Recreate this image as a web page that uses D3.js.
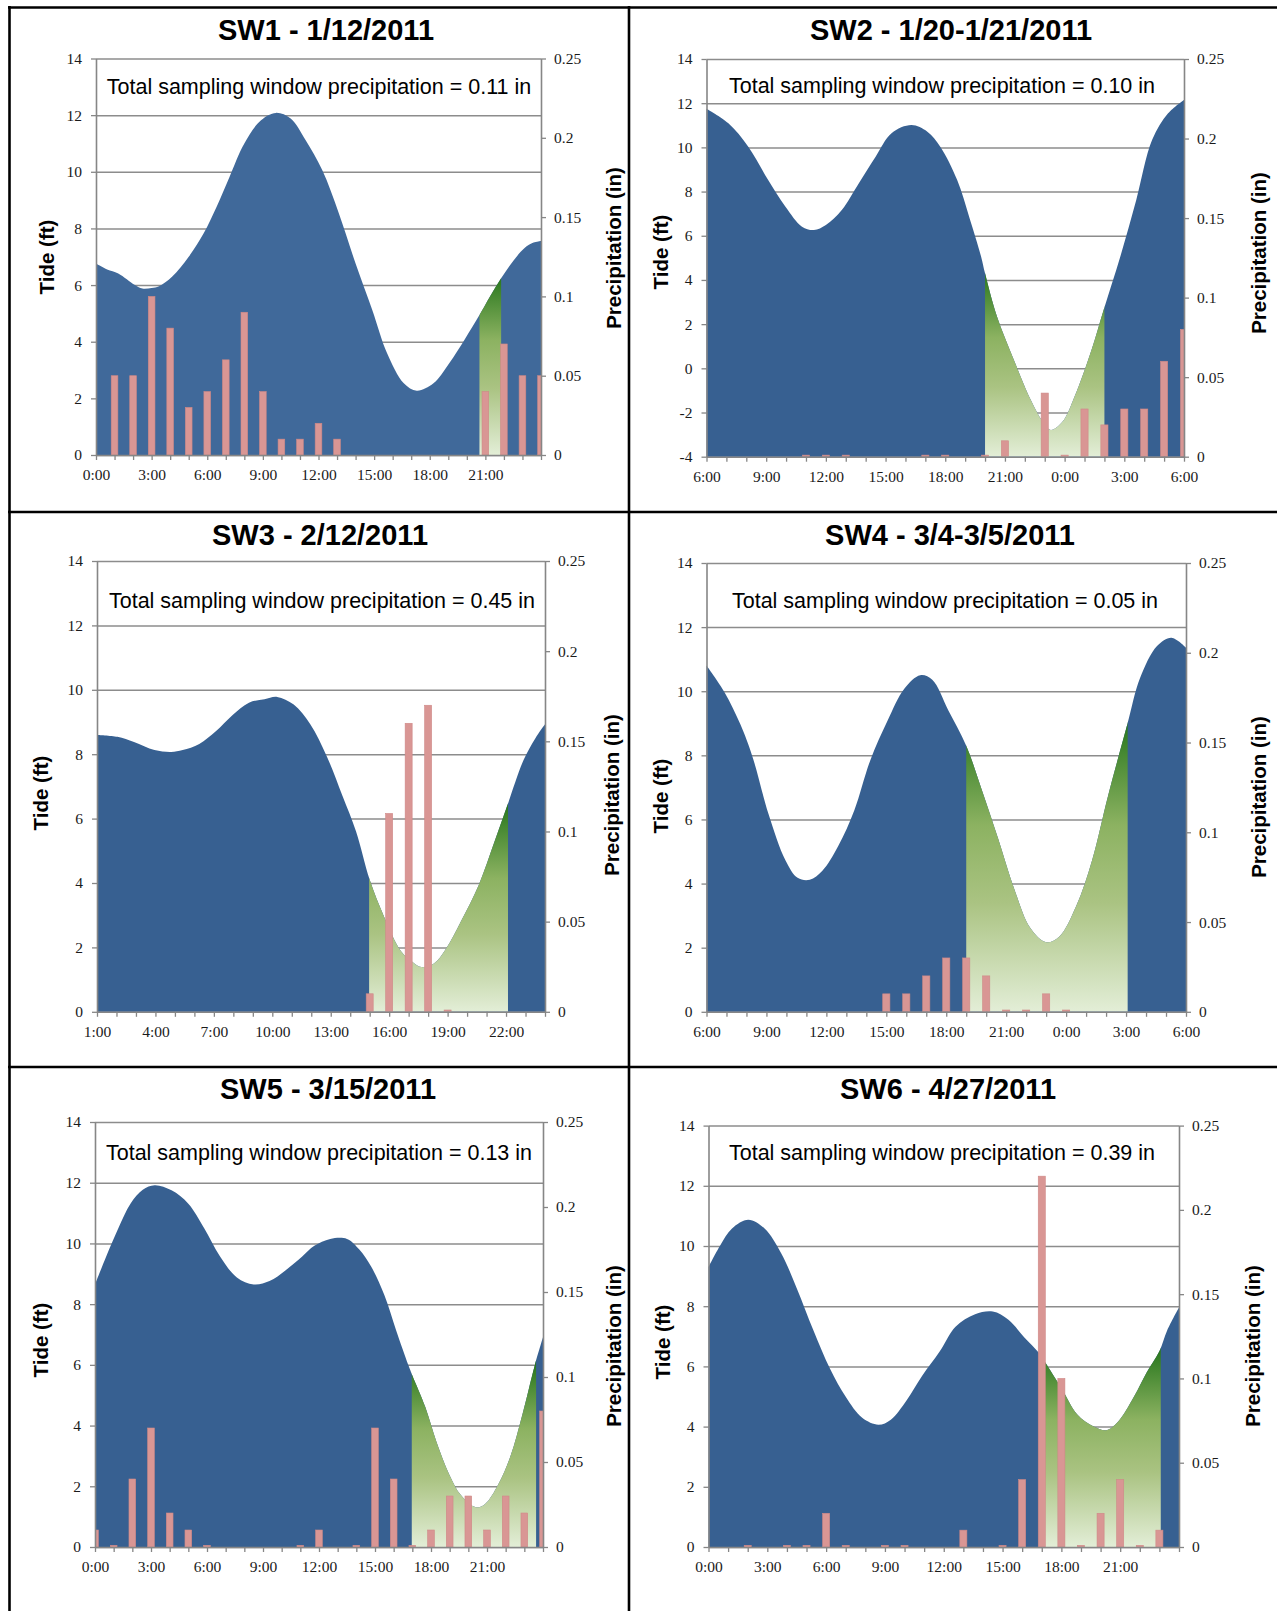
<!DOCTYPE html>
<html>
<head>
<meta charset="utf-8">
<script src="https://cdn.jsdelivr.net/npm/d3@7"></script>
<style>
  body { margin: 0; background: #fff; }
  .tick text { font-family: "Liberation Serif", "Times New Roman", serif; font-size: 15.5px; fill: #1a1a1a; }
</style>
</head>
<body>
<svg id="chart" width="1277" height="1611"></svg>
<script>
let titles = ["SW1 - 1/12/2011", "SW2 - 1/20-1/21/2011", "SW3 - 2/12/2011", "SW4 - 3/4-3/5/2011", "SW5 - 3/15/2011", "SW6 - 4/27/2011"];
let totals = ["0.11", "0.10", "0.45", "0.05", "0.13", "0.39"];
let tideRanges = [[0, 14], [-4, 14], [0, 14], [0, 14], [0, 14], [0, 14]];
let hourRanges = [[0, 24], [6, 30], [1, 24], [6, 30], [0, 24], [0, 24]];
let hourLabels = [
  [0, 3, 6, 9, 12, 15, 18, 21],
  [6, 9, 12, 15, 18, 21, 24, 27, 30],
  [1, 4, 7, 10, 13, 16, 19, 22],
  [6, 9, 12, 15, 18, 21, 24, 27, 30],
  [0, 3, 6, 9, 12, 15, 18, 21],
  [0, 3, 6, 9, 12, 15, 18, 21]
];
let precipTicks = [0, 0.05, 0.1, 0.15, 0.2, 0.25];
// sampling windows (hour start, hour end)
let windows = [[20.68, 21.85], [20, 26], [14.97, 22.1], [19, 27.08], [16.97, 23.63], [17.12, 23.07]];

// tide readings [hour, ft]
let sw1Tide = [[0,6.76],[0.6,6.55],[1.2,6.41],[2.1,6.0],[2.5,5.88],[3.0,5.9],[3.4,5.96],[4.1,6.29],[5.0,7.0],[5.8,7.82],[6.5,8.76],[7.2,9.82],[8.0,11.0],[8.9,11.82],[9.7,12.08],[10.5,11.88],[11.3,11.12],[12.2,10.06],[13.1,8.53],[14.0,6.76],[14.9,5.12],[15.7,3.59],[16.6,2.53],[17.3,2.27],[18.2,2.53],[19.05,3.24],[19.9,4.1],[20.68,4.94],[21.25,5.6],[21.85,6.24],[22.5,6.85],[23.1,7.3],[23.6,7.5],[24,7.56]];
let sw2Tide = [[6.0,11.75],[7.1,11.09],[8.1,10.03],[9.1,8.52],[9.96,7.32],[10.8,6.41],[11.4,6.26],[12.0,6.49],[12.8,7.17],[13.65,8.37],[14.5,9.58],[15.3,10.64],[16.3,11.01],[17.1,10.71],[17.75,10.03],[18.6,8.52],[19.2,6.86],[19.8,5.06],[20.0,4.3],[20.6,2.34],[21.45,0.38],[22.3,-1.43],[22.9,-2.41],[23.3,-2.79],[23.9,-2.41],[24.5,-1.28],[25.35,0.83],[25.96,2.64],[26.8,5.06],[27.6,7.62],[28.4,10.34],[29.2,11.54],[30.0,12.15]];
let sw3Tide = [[1.0,8.6],[2.05,8.54],[2.9,8.38],[3.95,8.13],[4.8,8.07],[5.4,8.13],[6.25,8.32],[7.1,8.71],[7.95,9.21],[8.8,9.6],[9.6,9.71],[10.25,9.78],[11.1,9.54],[11.95,8.93],[12.8,7.93],[13.6,6.71],[14.3,5.6],[15.0,4.1],[15.75,2.94],[16.6,1.89],[17.2,1.55],[17.65,1.39],[18.3,1.5],[18.9,1.94],[19.7,2.83],[20.6,3.94],[21.4,5.27],[22.05,6.38],[22.9,7.82],[23.5,8.49],[24.0,8.93]];
let sw4Tide = [[6.0,10.8],[6.9,9.97],[7.7,8.96],[8.3,7.96],[9.1,6.18],[9.95,4.73],[10.56,4.18],[11.17,4.12],[11.8,4.4],[12.6,5.18],[13.4,6.29],[14.2,7.85],[15.06,9.08],[15.9,10.08],[16.7,10.5],[17.3,10.36],[18.1,9.41],[19.0,8.3],[19.76,6.96],[20.6,5.4],[21.4,3.84],[22.2,2.62],[23.0,2.17],[23.65,2.34],[24.5,3.29],[25.3,4.73],[26.1,6.74],[27.06,8.96],[27.7,10.41],[28.55,11.41],[29.27,11.67],[30.0,11.36]];
let sw5Tide = [[0,8.65],[0.6,9.57],[1.25,10.5],[1.9,11.31],[2.56,11.77],[3.2,11.92],[4.1,11.75],[5.0,11.31],[5.85,10.5],[6.7,9.57],[7.6,8.88],[8.5,8.65],[9.35,8.76],[10.2,9.11],[11.1,9.57],[11.75,9.92],[12.6,10.15],[13.5,10.15],[14.16,9.8],[14.8,9.23],[15.5,8.3],[16.13,7.14],[16.78,6.0],[17.0,5.65],[17.7,4.6],[18.3,3.45],[18.97,2.4],[19.6,1.71],[20.4,1.31],[20.9,1.42],[21.6,2.06],[22.25,2.98],[22.9,4.37],[23.56,5.99],[24.0,6.91]];
let sw6Tide = [[0,9.3],[0.58,10.0],[1.2,10.58],[2.03,10.87],[2.86,10.58],[3.7,9.77],[4.5,8.6],[5.35,7.2],[6.2,5.92],[7.0,4.99],[7.84,4.29],[8.67,4.06],[9.3,4.23],[10.1,4.87],[10.9,5.69],[11.8,6.5],[12.6,7.32],[13.6,7.73],[14.5,7.82],[15.3,7.55],[16.1,6.97],[16.85,6.45],[17.16,6.15],[18.0,5.28],[18.8,4.41],[19.65,4.0],[20.3,3.88],[20.9,4.17],[21.7,4.99],[22.35,5.8],[23.0,6.5],[23.4,7.2],[24.0,7.96]];

// hourly precipitation [hour, in]
let sw1Rain = [[1,0.05],[2,0.05],[3,0.1],[4,0.08],[5,0.03],[6,0.04],[7,0.06],[8,0.09],[9,0.04],[10,0.01],[11,0.01],[12,0.02],[13,0.01],[21,0.04],[22,0.07],[23,0.05],[24,0.05]];
let sw2Rain = [[11,0.001],[12,0.001],[13,0.001],[17,0.001],[18,0.001],[20,0.001],[21,0.01],[23,0.04],[24,0.001],[25,0.03],[26,0.02],[27,0.03],[28,0.03],[29,0.06],[30,0.08]];
let sw3Rain = [[15,0.01],[16,0.11],[17,0.16],[18,0.17],[19,0.001]];
let sw4Rain = [[15,0.01],[16,0.01],[17,0.02],[18,0.03],[19,0.03],[20,0.02],[21,0.001],[22,0.001],[23,0.01],[24,0.001]];
let sw5Rain = [[0,0.01],[1,0.001],[2,0.04],[3,0.07],[4,0.02],[5,0.01],[6,0.001],[11,0.001],[12,0.01],[14,0.001],[15,0.07],[16,0.04],[17,0.001],[18,0.01],[19,0.03],[20,0.03],[21,0.01],[22,0.03],[23,0.02],[24,0.08]];
let sw6Rain = [[2,0.001],[4,0.001],[5,0.001],[6,0.02],[7,0.001],[9,0.001],[10,0.001],[13,0.01],[15,0.001],[16,0.04],[17,0.22],[18,0.1],[19,0.001],[20,0.02],[21,0.04],[22,0.001],[23,0.01]];

let tides = [sw1Tide, sw2Tide, sw3Tide, sw4Tide, sw5Tide, sw6Tide];
let rains = [sw1Rain, sw2Rain, sw3Rain, sw4Rain, sw5Rain, sw6Rain];

// where each panel sits on the page
let boxes = [
  {left: 96, right: 541, top: 58.5, bottom: 455, titleX: 326, titleY: 40, noteX: 319, noteY: 94, tideX: 47, tideY: 257, precX: 614, precY: 248, blue: "#40699a"},
  {left: 706.5, right: 1184, top: 59, bottom: 456.7, titleX: 951, titleY: 40, noteX: 942, noteY: 93, tideX: 661, tideY: 252, precX: 1259, precY: 253, blue: "#376091"},
  {left: 97, right: 545, top: 561, bottom: 1011.8, titleX: 320, titleY: 545, noteX: 322, noteY: 608, tideX: 41, tideY: 793, precX: 612, precY: 795, blue: "#376091"},
  {left: 706.5, right: 1186, top: 563, bottom: 1011.8, titleX: 950, titleY: 545, noteX: 945, noteY: 608, tideX: 661, tideY: 796, precX: 1259, precY: 797, blue: "#376091"},
  {left: 95, right: 543, top: 1122, bottom: 1547, titleX: 328, titleY: 1099, noteX: 319, noteY: 1160, tideX: 41, tideY: 1340, precX: 614, precY: 1346, blue: "#376091"},
  {left: 708.5, right: 1179, top: 1125.6, bottom: 1547, titleX: 948, titleY: 1099, noteX: 942, noteY: 1160, tideX: 663, tideY: 1342, precX: 1253, precY: 1346, blue: "#376091"}
];

let svg = d3.select("#chart");
let defs = svg.append("defs");
svg.append("rect").attr("width", 1277).attr("height", 1611).attr("fill", "#fff");

let axisGray = "#868686";
let sans = "'Liberation Sans', Arial, sans-serif";

for (let i = 0; i < 6; i++) drawPanel(i);

// table borders
let borders = [[8, 7.5, 1277, 7.5], [9.5, 6, 9.5, 1611], [629, 6, 629, 1611], [8, 512, 1277, 512], [8, 1067, 1277, 1067]];
svg.selectAll("line.border")
  .data(borders)
  .join("line")
  .attr("class", "border")
  .attr("x1", d => d[0]).attr("y1", d => d[1])
  .attr("x2", d => d[2]).attr("y2", d => d[3])
  .attr("stroke", "#000")
  .attr("stroke-width", 2.6);

function drawPanel(i){
  let b = boxes[i];
  let g = svg.append("g");
  let w = b.right - b.left;
  let x = d3.scaleLinear().domain(hourRanges[i]).range([b.left, b.right]);
  let yT = d3.scaleLinear().domain(tideRanges[i]).range([b.bottom, b.top]);
  let yP = d3.scaleLinear().domain([0, 0.25]).range([b.bottom, b.top]);
  let tideTicks = d3.range(tideRanges[i][0], tideRanges[i][1] + 1, 2);
  let yMin = tideRanges[i][0];

  // gridlines
  g.append("g")
    .attr("transform", `translate(${b.left},0)`)
    .call(d3.axisLeft(yT).tickValues(tideTicks).tickSize(-w).tickFormat(""))
    .call(a => a.select(".domain").remove())
    .selectAll("line")
      .attr("stroke", "#8c8c8c")
      .attr("stroke-width", 1.5);

  let area = d3.area()
    .x(d => x(d[0]))
    .y0(yT(yMin))
    .y1(d => yT(d[1]))
    .curve(d3.curveCatmullRom.alpha(0.5));

  g.append("path")
    .datum(tides[i])
    .attr("d", area)
    .attr("fill", b.blue);

  // sampling window in green
  let win = windows[i];
  defs.append("clipPath")
    .attr("id", "win" + i)
    .append("rect")
      .attr("x", x(win[0])).attr("y", b.top)
      .attr("width", x(win[1]) - x(win[0])).attr("height", b.bottom - b.top);

  let winTop = d3.max(tides[i].filter(d => d[0] >= win[0] - 0.1 && d[0] <= win[1] + 0.1), d => d[1]);
  let grad = defs.append("linearGradient")
    .attr("id", "green" + i)
    .attr("gradientUnits", "userSpaceOnUse")
    .attr("x1", 0).attr("x2", 0)
    .attr("y1", yT(winTop)).attr("y2", yT(yMin));
  grad.append("stop").attr("offset", "0%").attr("stop-color", "#2a781f");
  grad.append("stop").attr("offset", "35%").attr("stop-color", "#8cb261");
  grad.append("stop").attr("offset", "62%").attr("stop-color", "#aac382");
  grad.append("stop").attr("offset", "100%").attr("stop-color", "#e3eed7");

  g.append("path")
    .datum(tides[i])
    .attr("d", area)
    .attr("fill", `url(#green${i})`)
    .attr("clip-path", `url(#win${i})`);

  // precipitation bars
  defs.append("clipPath")
    .attr("id", "plot" + i)
    .append("rect")
      .attr("x", b.left).attr("y", b.top)
      .attr("width", w).attr("height", b.bottom - b.top);

  let barW = (x(1) - x(0)) * 0.36;
  g.append("g")
    .attr("clip-path", `url(#plot${i})`)
    .selectAll("rect")
    .data(rains[i])
    .join("rect")
      .attr("x", d => x(d[0]) - barW / 2)
      .attr("y", d => yP(d[1]))
      .attr("width", barW)
      .attr("height", d => yP(0) - yP(d[1]))
      .attr("fill", "#d99694")
      .attr("stroke", "#cf8987")
      .attr("stroke-width", 0.6);

  // left axis
  let left = g.append("g")
    .attr("transform", `translate(${b.left},0)`)
    .call(d3.axisLeft(yT).tickValues(tideTicks).tickSize(5).tickPadding(9).tickSizeOuter(0)
      .tickFormat(d => String(d)));
  styleAxis(left);

  // right axis
  let right = g.append("g")
    .attr("transform", `translate(${b.right},0)`)
    .call(d3.axisRight(yP).tickValues(precipTicks).tickSize(5).tickPadding(8).tickSizeOuter(0)
      .tickFormat(d => d === 0 ? "0" : String(+d.toFixed(2))));
  styleAxis(right);

  // bottom axis, a tick every hour
  let labelled = new Set(hourLabels[i]);
  let bottom = g.append("g")
    .attr("transform", `translate(0,${b.bottom})`)
    .call(d3.axisBottom(x).tickValues(d3.range(hourRanges[i][0], hourRanges[i][1] + 1)).tickSize(5).tickPadding(9).tickSizeOuter(0)
      .tickFormat(h => labelled.has(h) ? (h % 24) + ":00" : ""));
  styleAxis(bottom);

  // texts
  g.append("text")
    .attr("x", b.titleX).attr("y", b.titleY)
    .attr("text-anchor", "middle")
    .attr("font-family", sans).attr("font-weight", "bold").attr("font-size", 29)
    .text(titles[i]);

  g.append("text")
    .attr("x", b.noteX).attr("y", b.noteY)
    .attr("text-anchor", "middle")
    .attr("font-family", sans).attr("font-size", 21.5)
    .text("Total sampling window precipitation = " + totals[i] + " in");

  g.append("text")
    .attr("transform", `translate(${b.tideX},${b.tideY}) rotate(-90)`)
    .attr("text-anchor", "middle").attr("dy", "0.35em")
    .attr("font-family", sans).attr("font-weight", "bold").attr("font-size", 20.5)
    .text("Tide (ft)");

  g.append("text")
    .attr("transform", `translate(${b.precX},${b.precY}) rotate(-90)`)
    .attr("text-anchor", "middle").attr("dy", "0.35em")
    .attr("font-family", sans).attr("font-weight", "bold").attr("font-size", 20.5)
    .text("Precipitation (in)");
}

function styleAxis(sel){
  sel.select(".domain").attr("stroke", axisGray).attr("stroke-width", 1.6);
  sel.selectAll(".tick line").attr("stroke", axisGray).attr("stroke-width", 1.3);
}
</script>
</body>
</html>
